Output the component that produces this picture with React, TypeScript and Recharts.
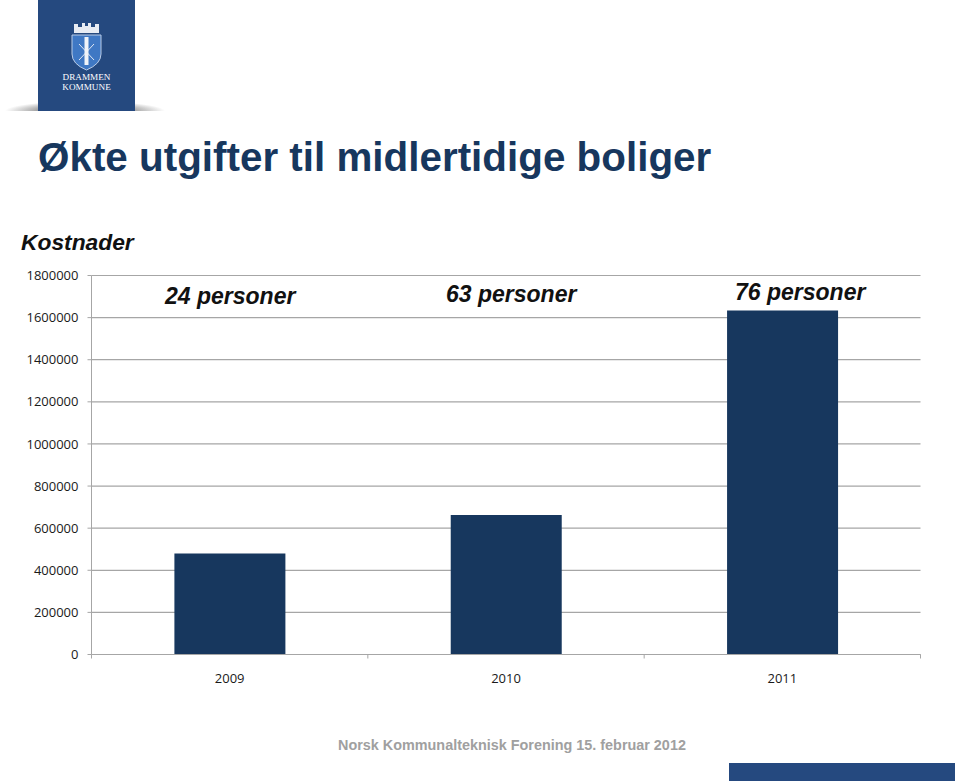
import { BarChart, Bar, XAxis, YAxis, CartesianGrid } from "recharts";

const years = ["2009", "2010", "2011"];
const costs = [480000, 662000, 1634000];
const personLabels = ["24 personer", "63 personer", "76 personer"];
const yTicks = [0, 200000, 400000, 600000, 800000, 1000000, 1200000, 1400000, 1600000, 1800000];

const chartData = years.map((year, i) => ({ year, cost: costs[i] }));

const NAVY = "#17375E";
const AXIS_GRAY = "#A6A6A6";
const TICK_MARGIN = 13;
const DEFAULT_TICK_SIZE = 6;
const tickStyle = { fontSize: 13, fill: "#1a1a1a", fontFamily: "'Open Sans', sans-serif" };
const ARIAL = "'Liberation Sans', Arial, sans-serif";

// Where the three "N personer" notes sit on the slide
const labelPos = [
  { left: 165, top: 283 },
  { left: 446, top: 281 },
  { left: 735, top: 279 },
];

// Year label plus the tick marks on the band edges, like the original axis
function YearTick(props: any) {
  const { x, y, width, payload, index } = props;
  const half = width / years.length / 2;
  const axisY = y - TICK_MARGIN - DEFAULT_TICK_SIZE;
  return (
    <g>
      {index === 0 && <line x1={x - half} x2={x - half} y1={axisY} y2={axisY + 4} stroke={AXIS_GRAY} />}
      <line x1={x + half} x2={x + half} y1={axisY} y2={axisY + 4} stroke={AXIS_GRAY} />
      <text x={x} y={y} dy="0.71em" textAnchor="middle" {...tickStyle}>
        {payload.value}
      </text>
    </g>
  );
}

function Logo() {
  return (
    <>
      <div
        style={{
          position: "absolute",
          left: 5,
          top: 101,
          width: 160,
          height: 20,
          background: "radial-gradient(ellipse 50% 50% at 50% 50%, #8f8f8f 50%, rgba(255,255,255,0) 100%)",
        }}
      />
      <div style={{ position: "absolute", left: 0, top: 111, width: 200, height: 12, background: "#fff" }} />
      <div
        style={{
          position: "absolute",
          left: 38,
          top: 0,
          width: 97,
          height: 111,
          background: "#25497F",
          color: "#fff",
          fontFamily: "'Liberation Serif', serif",
          textAlign: "center",
        }}
      >
        <svg width="97" height="72" style={{ display: "block" }}>
          <path d="M36 24 H40 V27 H44 V23 H47 V26 H50 V23 H53 V27 H57 V24 H61 V33 H36 Z" fill="#e8ecf3" />
          <path d="M34 35 H63 V54 Q63 64 48.5 70 Q34 64 34 54 Z" fill="#3f78c4" stroke="#b9cbe6" />
          <path d="M41 44 L56 60 M56 44 L41 60" stroke="#dfe7f3" strokeWidth="1" />
          <rect x="46.5" y="37" width="4" height="28" fill="#f0f3f8" />
        </svg>
        <div style={{ fontSize: 9.2, lineHeight: "9.5px", marginTop: 1 }}>
          DRAMMEN
          <br />
          KOMMUNE
        </div>
      </div>
    </>
  );
}

export default function App() {
  return (
    <div style={{ position: "fixed", left: 0, top: 0, width: 960, height: 781, background: "#fff", overflow: "hidden" }}>
      <Logo />

      <div
        style={{
          position: "absolute",
          left: 38,
          top: 134,
          fontFamily: ARIAL,
          fontWeight: "bold",
          fontSize: 40.4,
          lineHeight: "46px",
          color: NAVY,
          whiteSpace: "nowrap",
        }}
      >
        Økte utgifter til midlertidige boliger
      </div>
      <div
        style={{
          position: "absolute",
          left: 21,
          top: 229,
          fontFamily: ARIAL,
          fontWeight: "bold",
          fontStyle: "italic",
          fontSize: 22.8,
          lineHeight: "26px",
          color: "#111",
        }}
      >
        Kostnader
      </div>

      <div style={{ position: "absolute", left: 0, top: 0 }}>
        <BarChart
          width={960}
          height={781}
          data={chartData}
          barCategoryGap="30%"
          margin={{ top: 275.5, right: 39.5, bottom: 76.5, left: 0 }}
        >
          <CartesianGrid vertical={false} stroke={AXIS_GRAY} strokeWidth={1.2} />
          <XAxis
            dataKey="year"
            stroke={AXIS_GRAY}
            tick={YearTick}
            tickLine={false}
            tickMargin={TICK_MARGIN}
            height={50}
          />
          <YAxis
            width={91.5}
            domain={[0, 1800000]}
            ticks={yTicks}
            interval={0}
            stroke={AXIS_GRAY}
            tick={tickStyle}
            tickSize={4}
            tickMargin={9}
          />
          <Bar dataKey="cost" fill={NAVY} isAnimationActive={false} />
        </BarChart>
      </div>

      {personLabels.map((text, i) => (
        <div
          key={text}
          style={{
            position: "absolute",
            left: labelPos[i].left,
            top: labelPos[i].top,
            fontFamily: ARIAL,
            fontWeight: "bold",
            fontStyle: "italic",
            fontSize: 23,
            lineHeight: "27px",
            color: "#111",
            whiteSpace: "nowrap",
          }}
        >
          {text}
        </div>
      ))}

      <div
        style={{
          position: "absolute",
          left: 338,
          top: 736,
          fontFamily: ARIAL,
          fontWeight: "bold",
          fontSize: 14.4,
          lineHeight: "18px",
          color: "#a0a0a0",
          whiteSpace: "nowrap",
        }}
      >
        Norsk Kommunalteknisk Forening 15. februar 2012
      </div>
      <div style={{ position: "absolute", left: 729, top: 763, width: 226, height: 18, background: "#25497F" }} />
    </div>
  );
}
